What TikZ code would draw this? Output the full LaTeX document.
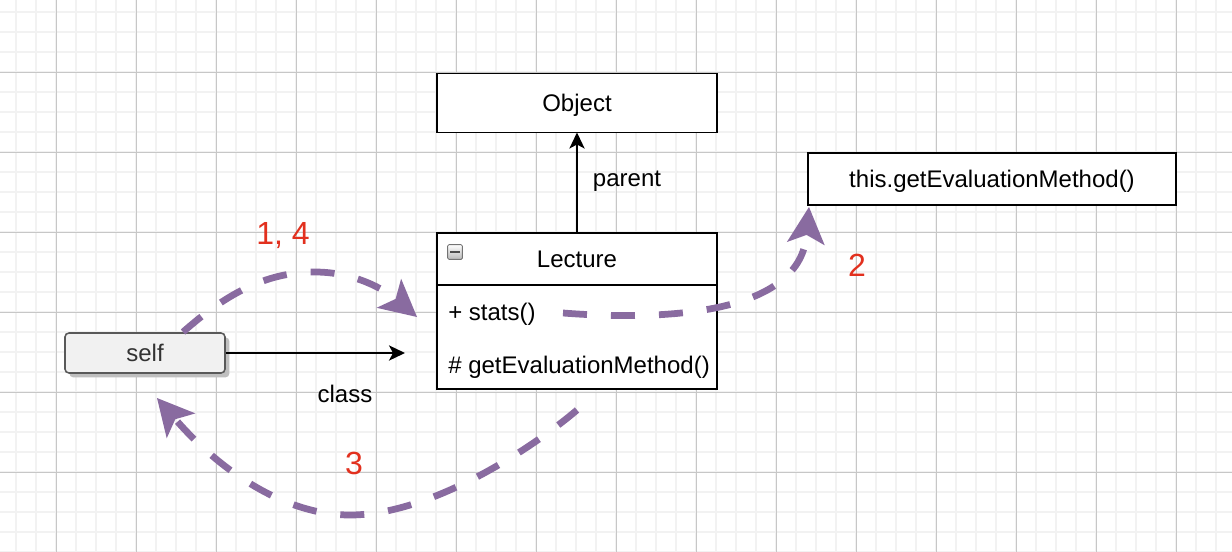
\documentclass[tikz,border=0pt]{standalone}
\usepackage{fontspec}
\setmainfont{Liberation Sans}
\usepackage{xcolor}
\usepackage{tikz}
\usetikzlibrary{arrows.meta, positioning, shadows}

\definecolor{flowpurple}{RGB}{137,107,160}
\definecolor{stepred}{RGB}{226,48,30}
\definecolor{selffill}{RGB}{241,241,241}

\begin{document}
\begin{tikzpicture}[
    x=0.025cm, y=-0.025cm,
    box/.style={draw, line width=1.4pt, fill=white, minimum width=7cm, inner sep=0pt, outer sep=0pt,
        text height=0.43cm, text depth=0pt, font=\fontsize{17.07}{20}\selectfont},
    selfbox/.style={draw=black!65, line width=1.1pt, fill=selffill, rounded corners=0.1cm,
        minimum width=4cm, minimum height=1cm, inner sep=0pt, text=black!80,
        text height=0.43cm, text depth=0pt, font=\fontsize{17.07}{20}\selectfont,
        drop shadow={shadow xshift=0.11cm, shadow yshift=-0.11cm, fill=black!25, opacity=1}},
    member/.style={anchor=base west, inner sep=0pt, font=\fontsize{17.07}{20}\selectfont},
    edgelabel/.style={anchor=base, inner sep=0pt, font=\fontsize{17.07}{20}\selectfont},
    steplabel/.style={anchor=base, inner sep=0pt, text=stepred, font=\fontsize{22.76}{26}\selectfont},
    link/.style={-{Stealth[length=0.4cm, width=0.38cm, inset=0.1cm]}, line width=1.4pt},
    flow/.style={-{Stealth[length=0.92cm, width=0.95cm, inset=0.22cm, line width=0pt]}, draw=flowpurple,
        line width=4.8pt, dash pattern=on 0.6cm off 0.6cm},
    minorgrid/.style={draw=black!5, line width=1.2pt},
    majorgrid/.style={draw=black!22, line width=0.7pt}
]
    \useasboundingbox (0,0) rectangle (1232,552);
    \fill[white] (0,0) rectangle (1232,552);

    % grid
    \foreach \gx in {16,36,...,1232} \draw[minorgrid] (\gx,0) -- (\gx,552);
    \foreach \gy in {12,32,...,552} \draw[minorgrid] (0,\gy) -- (1232,\gy);
    \foreach \gx in {56,136,...,1232} \draw[majorgrid] (\gx,0) -- (\gx,552);
    \foreach \gy in {72,152,...,552} \draw[majorgrid] (0,\gy) -- (1232,\gy);

    \node[box, minimum height=1.475cm] (object) at (577,103) {Object};
    \node[box, minimum width=9.175cm, minimum height=1.3cm] (evalcall) at (992,179) {this.getEvaluationMethod()};

    \node[box, minimum height=1.3cm] (lecture) at (577,259) {Lecture};
    \node[box, minimum height=2.6cm, anchor=north] (members) at (lecture.south) {};
    \node[member] (stats) at (448,320) {+ stats()};
    \node[member] (geteval) at (448,373) {\# getEvaluationMethod()};

    \node[draw=black!55, line width=0.6pt, top color=white, bottom color=gray!55, rounded corners=1pt,
        minimum size=0.37cm, inner sep=0pt] (collapse) at (455,252) {};
    \draw[line width=1.3pt, black!70] ([xshift=0.08cm]collapse.west) -- ([xshift=-0.08cm]collapse.east);

    \node[selfbox] (self) at (145,353) {self};

    \draw[link] (lecture.north) -- (object.south);
    \node[edgelabel] (parentlbl) at (627,186) {parent};

    \coordinate (classend) at (405,353);
    \draw[link] (self.east) -- (classend);
    \node[edgelabel] (classlbl) at (345,402) {class};

    % call order
    \coordinate (fromself) at (183,332);
    \coordinate (intolecture) at (417,317);
    \coordinate (fromstats) at (563,313);
    \coordinate (intocall) at (809,207);
    \coordinate (fromlecture) at (577,410);
    \coordinate (intoself) at (157,398);

    \draw[flow] (fromself) .. controls (225,295) and (265,272) .. (315,272)
        .. controls (355,272) and (385,290) .. (intolecture);
    \draw[flow] (fromstats) .. controls (680,322) and (800,310) .. (intocall);
    \draw[flow] (fromlecture) .. controls (530,450) and (430,515) .. (350,515)
        .. controls (280,515) and (215,465) .. (intoself);

    \node[steplabel] (step14) at (283,244) {1, 4};
    \node[steplabel] (step2) at (857,276) {2};
    \node[steplabel] (step3) at (354,474) {3};
\end{tikzpicture}
\end{document}
